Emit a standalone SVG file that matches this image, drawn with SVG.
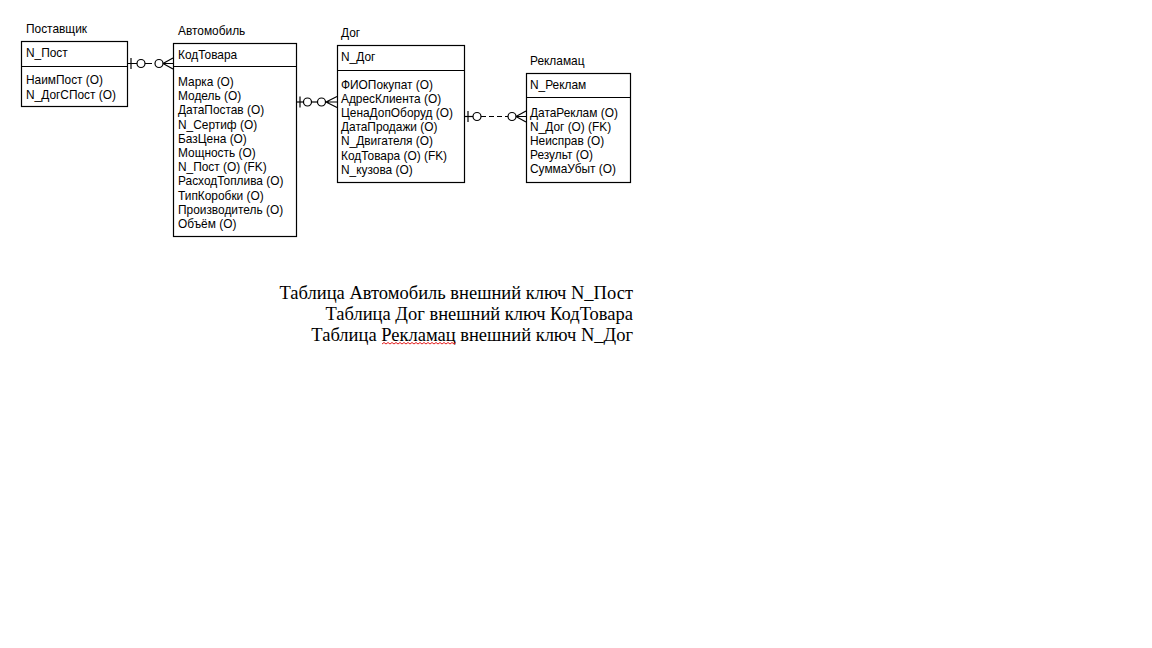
<svg xmlns="http://www.w3.org/2000/svg" width="1152" height="648" viewBox="0 0 1152 648">
<style>
.box{fill:#fff;stroke:#000;stroke-width:1.2}
.div{stroke:#000;stroke-width:1.2}
.t{font-family:"Liberation Sans",Arial,sans-serif;font-size:11.9px;fill:#000}
.c{stroke:#000;stroke-width:1.2;fill:none}
.o{stroke:#000;stroke-width:1.2;fill:#fff}
.n{font-family:"Liberation Serif","Times New Roman",serif;font-size:18.5px;fill:#000;text-anchor:end}
</style>
<rect width="1152" height="648" fill="#fff"/>
<g id="connectors">
<g id="c1">
<path class="c" d="M128,63.5 H137 M145,63.5 H152"/>
<path class="c" d="M131,58 V69"/>
<circle class="o" cx="141" cy="63.5" r="4"/>
<circle class="o" cx="159" cy="63.5" r="4"/>
<path class="c" d="M163,63.5 H173 M163,63.5 L173,58 M163,63.5 L173,69"/>
</g>
<g id="c2">
<path class="c" d="M297,102 H326"/>
<path class="c" d="M300,96.5 V107.5"/>
<circle class="o" cx="307.5" cy="102" r="4"/>
<circle class="o" cx="321.5" cy="102" r="4"/>
<path class="c" d="M325.5,102 H337 M326,102 L337,96.5 M326,102 L337,107.5"/>
</g>
<g id="c3">
<path class="c" d="M465,116.5 H473"/>
<path class="c" d="M468,111 V122"/>
<circle class="o" cx="477" cy="116.5" r="4"/>
<path class="c" d="M481,116.5 H508" stroke-dasharray="5,3"/>
<circle class="o" cx="512" cy="116.5" r="4"/>
<path class="c" d="M516,116.5 H526 M516,116.5 L526,111 M516,116.5 L526,122"/>
</g>
</g>
<g id="postavshik">
<text class="t" x="26" y="33">Поставщик</text>
<rect class="box" x="21.5" y="41.5" width="106" height="65"/>
<line class="div" x1="21.5" y1="66.5" x2="127.5" y2="66.5"/>
<text class="t" x="26" y="57">N_Пост</text>
<text class="t" x="26" y="84">НаимПост (O)</text>
<text class="t" x="26" y="99">N_ДогСПост (O)</text>
</g>
<g id="avtomobil">
<text class="t" x="178" y="35">Автомобиль</text>
<rect class="box" x="173.5" y="43.5" width="123" height="193"/>
<line class="div" x1="173.5" y1="66.5" x2="296.5" y2="66.5"/>
<text class="t" x="178" y="59">КодТовара</text>
<text class="t" x="178" y="86">Марка (O)</text>
<text class="t" x="178" y="100.2">Модель (O)</text>
<text class="t" x="178" y="114.4">ДатаПостав (O)</text>
<text class="t" x="178" y="128.6">N_Сертиф (O)</text>
<text class="t" x="178" y="142.8">БазЦена (O)</text>
<text class="t" x="178" y="157">Мощность (O)</text>
<text class="t" x="178" y="171.2">N_Пост (O) (FK)</text>
<text class="t" x="178" y="185.4">РасходТоплива (O)</text>
<text class="t" x="178" y="199.6">ТипКоробки (O)</text>
<text class="t" x="178" y="213.8">Производитель (O)</text>
<text class="t" x="178" y="228">Объём (O)</text>
</g>
<g id="dog">
<text class="t" x="341" y="37">Дог</text>
<rect class="box" x="337.5" y="45.5" width="127" height="137"/>
<line class="div" x1="337.5" y1="70.5" x2="464.5" y2="70.5"/>
<text class="t" x="341" y="61">N_Дог</text>
<text class="t" x="341" y="89">ФИОПокупат (O)</text>
<text class="t" x="341" y="103.1">АдресКлиента (O)</text>
<text class="t" x="341" y="117.2">ЦенаДопОборуд (O)</text>
<text class="t" x="341" y="131.3">ДатаПродажи (O)</text>
<text class="t" x="341" y="145.4">N_Двигателя (O)</text>
<text class="t" x="341" y="159.5">КодТовара (O) (FK)</text>
<text class="t" x="341" y="173.6">N_кузова (O)</text>
</g>
<g id="reklamac">
<text class="t" x="530" y="65">Рекламац</text>
<rect class="box" x="526.5" y="73.5" width="104" height="109"/>
<line class="div" x1="526.5" y1="97.5" x2="630.5" y2="97.5"/>
<text class="t" x="530" y="89">N_Реклам</text>
<text class="t" x="530" y="117">ДатаРеклам (O)</text>
<text class="t" x="530" y="131">N_Дог (O) (FK)</text>
<text class="t" x="530" y="145">Неисправ (O)</text>
<text class="t" x="530" y="159">Результ (O)</text>
<text class="t" x="530" y="173">СуммаУбыт (O)</text>
</g>
<g id="notes">
<text class="n" x="633" y="299">Таблица Автомобиль внешний ключ N_Пост</text>
<text class="n" x="633" y="320">Таблица Дог внешний ключ КодТовара</text>
<text class="n" x="633" y="341">Таблица Рекламац внешний ключ N_Дог</text>
<path d="M382,344 l2,-1.5 l2,1.5 l2,-1.5 l2,1.5 l2,-1.5 l2,1.5 l2,-1.5 l2,1.5 l2,-1.5 l2,1.5 l2,-1.5 l2,1.5 l2,-1.5 l2,1.5 l2,-1.5 l2,1.5 l2,-1.5 l2,1.5 l2,-1.5 l2,1.5 l2,-1.5 l2,1.5 l2,-1.5 l2,1.5 l2,-1.5 l2,1.5 l2,-1.5 l2,1.5 l2,-1.5 l2,1.5 l2,-1.5 l2,1.5 l2,-1.5 l2,1.5 l2,-1.5 l2,1.5 l2,-1.5" fill="none" stroke="#e00000" stroke-width="0.9"/>
</g>
</svg>
